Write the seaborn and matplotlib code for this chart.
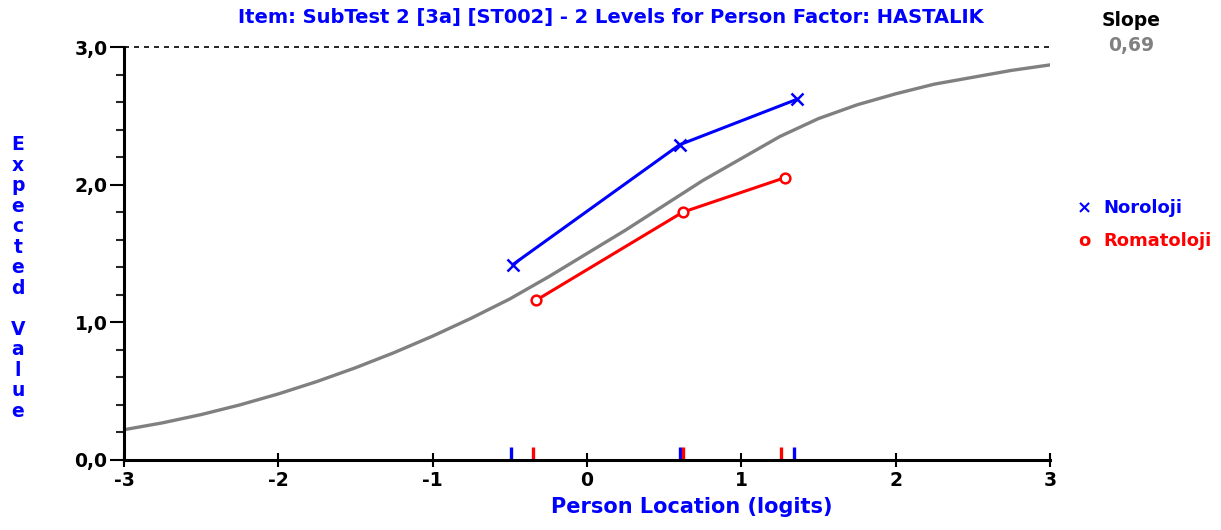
import numpy as np
import pandas as pd
import seaborn as sns
import matplotlib
matplotlib.use("Agg")
import matplotlib.pyplot as plt

# ---- data ----
curve_x = [-3, -2.75, -2.5, -2.25, -2, -1.75, -1.5, -1.25, -1, -0.75, -0.5, -0.25,
           0, 0.25, 0.5, 0.75, 1, 1.25, 1.5, 1.75, 2, 2.25, 2.5, 2.75, 3]
curve_y = [0.22, 0.27, 0.33, 0.40, 0.48, 0.57, 0.67, 0.78, 0.90, 1.03, 1.17, 1.33,
           1.50, 1.67, 1.85, 2.03, 2.19, 2.35, 2.48, 2.58, 2.66, 2.73, 2.78, 2.83, 2.87]

noro_x = [-0.48, 0.60, 1.36]
noro_y = [1.42, 2.29, 2.62]
roma_x = [-0.33, 0.62, 1.28]
roma_y = [1.16, 1.80, 2.05]

rug_noro = [-0.49, 0.60, 1.34]
rug_roma = [-0.35, 0.62, 1.26]

group_names = ["Noroloji", "Romatoloji"]
x_ticks = [-3, -2, -1, 0, 1, 2, 3]
y_ticks = [0.0, 1.0, 2.0, 3.0]
y_tick_labels = ["0,0", "1,0", "2,0", "3,0"]
title = "Item: SubTest 2 [3a] [ST002] - 2 Levels for Person Factor: HASTALIK"
slope_label = "Slope"
slope_value = "0,69"

BLUE = "#0000ff"
RED = "#ff0000"
GRAY = "#808080"

sns.set_style("white")
plt.rcParams["font.family"] = ["DejaVu Sans"]

W, H = 1221, 530
fig = plt.figure(figsize=(W / 100, H / 100), dpi=100)
ax = fig.add_axes([124 / W, 1 - 460 / H, (1050 - 124) / W, (460 - 47) / H])

curve = pd.DataFrame({"x": curve_x, "y": curve_y})
sns.lineplot(data=curve, x="x", y="y", ax=ax, color=GRAY, linewidth=2.4, sort=True)

dn = pd.DataFrame({"x": noro_x, "y": noro_y})
dr = pd.DataFrame({"x": roma_x, "y": roma_y})
sns.lineplot(data=dn, x="x", y="y", ax=ax, color=BLUE, linewidth=2.2,
             marker="x", markersize=8, markeredgewidth=1.8, markeredgecolor=BLUE)
sns.lineplot(data=dr, x="x", y="y", ax=ax, color=RED, linewidth=2.2,
             marker="o", markersize=7, markerfacecolor="white",
             markeredgewidth=1.8, markeredgecolor=RED)

sns.rugplot(x=rug_noro, ax=ax, color=BLUE, height=0.032, linewidth=2.4, clip_on=False)
sns.rugplot(x=rug_roma, ax=ax, color=RED, height=0.032, linewidth=2.4, clip_on=False)

ax.axhline(3.0, color="black", linestyle=(0, (3, 3)), linewidth=1.2, clip_on=False)

ax.set_xlim(-3, 3)
ax.set_ylim(0, 3)
ax.set_xlabel("")
ax.set_ylabel("")
ax.set_xticks(x_ticks)
ax.set_xticklabels([str(t) for t in x_ticks], fontsize=13.5, fontweight="bold")
ax.set_yticks(y_ticks)
ax.set_yticklabels(y_tick_labels, fontsize=13.5, fontweight="bold")
ax.set_yticks(np.arange(0, 3.01, 0.2), minor=True)
ax.tick_params(axis="x", which="major", direction="inout", length=10, width=1.5,
               bottom=True, pad=3, colors="black")
ax.tick_params(axis="y", which="major", direction="out", length=10, width=1.5,
               left=True, pad=2, colors="black")
ax.tick_params(axis="y", which="minor", direction="out", length=6, width=1.5, left=True)

for s in ["top", "right"]:
    ax.spines[s].set_visible(False)
for s in ["left", "bottom"]:
    ax.spines[s].set_color("black")
    ax.spines[s].set_linewidth(2.2)

fig.text(611 / W, 1 - 18 / H, title, ha="center", va="center", color=BLUE,
         fontsize=14, fontweight="bold")
fig.text(1131 / W, 1 - 21 / H, slope_label, ha="center", va="center", color="black",
         fontsize=13.5, fontweight="bold")
fig.text(1131 / W, 1 - 46 / H, slope_value, ha="center", va="center", color=GRAY,
         fontsize=13.5, fontweight="bold")

fig.text(692 / W, 1 - 507 / H, "Person Location (logits)", ha="center", va="center",
         color=BLUE, fontsize=15, fontweight="bold")

ylabel_text = "\n".join(list("Expected") + [" "] + list("Value"))
fig.text(18 / W, 1 - 278 / H, ylabel_text, ha="center", va="center", color=BLUE,
         fontsize=13.5, fontweight="bold", linespacing=1.1)

fig.text(1084 / W, 1 - 208 / H, "×", ha="center", va="center", color=BLUE,
         fontsize=13, fontweight="bold")
fig.text(1103 / W, 1 - 208 / H, group_names[0], ha="left", va="center", color=BLUE,
         fontsize=13, fontweight="bold")
fig.text(1084 / W, 1 - 241 / H, "o", ha="center", va="center", color=RED,
         fontsize=13, fontweight="bold")
fig.text(1103 / W, 1 - 241 / H, group_names[1], ha="left", va="center", color=RED,
         fontsize=13, fontweight="bold")

fig.savefig("out.png", dpi=100, facecolor="white")
